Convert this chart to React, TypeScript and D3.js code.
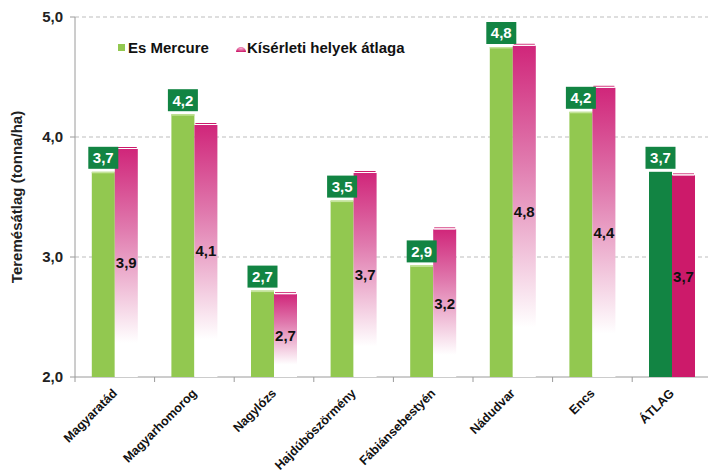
import React from "react";
import * as d3 from "d3";

const categories = ["Magyaratád", "Magyarhomorog", "Nagylózs", "Hajdúböszörmény", "Fábiánsebestyén", "Nádudvar", "Encs", "ÁTLAG"];
const mercure = [3.71, 4.19, 2.72, 3.47, 2.93, 4.75, 4.21, 3.71];
const average = [3.9, 4.1, 2.69, 3.7, 3.23, 4.76, 4.41, 3.68];
const mercureLabels = ["3,7", "4,2", "2,7", "3,5", "2,9", "4,8", "4,2", "3,7"];
const averageLabels = ["3,9", "4,1", "2,7", "3,7", "3,2", "4,8", "4,4", "3,7"];
const yTicks = [2, 3, 4, 5];
const seriesNames = ["Es Mercure", "Kísérleti helyek átlaga"];

const W = 708, H = 470;
const left = 75, top = 17, bottom = 377;
const bandW = 79.6;

export default function App() {
  const x = d3.scaleBand<string>().domain(categories).range([left, left + bandW * categories.length]).paddingInner(0).paddingOuter(0);
  const y = d3.scaleLinear().domain([2, 5]).range([bottom, top]);
  const barW = 23;
  const font = "'Liberation Sans', Arial, sans-serif";
  const green = "#92c850";
  const darkGreen = "#128443";
  const pink = "#cc1a6a";
  const fmt = (v: number) => v.toFixed(1).replace(".", ",");

  return (
    <svg width={W} height={H} style={{ position: "absolute", left: 0, top: 0, fontFamily: font }}>
      <defs>
        <linearGradient id="pinkGrad" x1="0" y1="0" x2="0" y2="1">
          <stop offset="0" stopColor="#d0267a" />
          <stop offset="0.35" stopColor="#e07aae" />
          <stop offset="0.85" stopColor="#ffffff" />
        </linearGradient>
        <radialGradient id="legendPink" cx="0.5" cy="0.3" r="0.7">
          <stop offset="0" stopColor="#f6a8cc" />
          <stop offset="1" stopColor="#cc1a6a" />
        </radialGradient>
      </defs>
      <rect width={W} height={H} fill="#fff" />
      {yTicks.filter(t => t > 2).map(t => (
        <line key={t} x1={left} x2={W} y1={y(t)} y2={y(t)} stroke="#bdbdbd" strokeDasharray="4 3" strokeWidth={1} />
      ))}
      <line x1={left} x2={left} y1={top} y2={bottom} stroke="#9a9a9a" />
      <line x1={left} x2={W} y1={bottom} y2={bottom} stroke="#9a9a9a" />
      {yTicks.map(t => (
        <g key={t}>
          <line x1={left - 5} x2={left} y1={y(t)} y2={y(t)} stroke="#9a9a9a" />
          <text x={63} y={y(t)} dy="0.35em" textAnchor="end" fontSize={15} fontWeight="bold" fill="#222">{fmt(t)}</text>
        </g>
      ))}
      {categories.map((c, i) => (
        <line key={"t" + i} x1={x(c)!} x2={x(c)!} y1={bottom} y2={bottom + 5} stroke="#9a9a9a" />
      ))}
      <text transform={`translate(22,${(top + bottom) / 2}) rotate(-90)`} textAnchor="middle" fontSize={15} fontWeight="bold" fill="#222">Teremésátlag (tonna/ha)</text>
      {categories.map((c, i) => {
        const cx = x(c)! + x.bandwidth() / 2;
        const isAvg = i === categories.length - 1;
        const gy = y(mercure[i]);
        const py = y(average[i]);
        return (
          <g key={c}>
            <rect x={cx - barW} y={gy} width={barW} height={bottom - gy} fill={isAvg ? darkGreen : green} />
            {!isAvg && <rect x={cx - barW} y={gy} width={barW} height={1.5} fill="#c4e39a" />}
            <rect x={cx} y={py} width={barW} height={bottom - py} fill={isAvg ? pink : "url(#pinkGrad)"} />
            <line x1={cx + 1} x2={cx + barW - 1} y1={py - 1.5} y2={py - 1.5} stroke={pink} strokeWidth={1} />
            <line x1={cx + 1} x2={cx + barW - 1} y1={py - 0.5} y2={py - 0.5} stroke="#fff" strokeWidth={1} />
            <rect x={cx - barW / 2 - 15} y={gy - 25} width={30} height={22} fill={darkGreen} />
            <text x={cx - barW / 2} y={gy - 14} dy="0.36em" textAnchor="middle" fontSize={15} fontWeight="bold" fill="#fff">{mercureLabels[i]}</text>
            <text x={cx + barW / 2} y={(py + bottom) / 2} dy="0.36em" textAnchor="middle" fontSize={15} fontWeight="bold" fill="#111">{averageLabels[i]}</text>
            <text transform={`translate(${cx + 3},${bottom + 17}) rotate(-45)`} textAnchor="end" fontSize={12.5} fontWeight="bold" fill="#111">{c}</text>
          </g>
        );
      })}
      <rect x={118} y={44} width={7} height={7} fill={green} />
      <text x={128} y={52.5} fontSize={15} fontWeight="bold" fill="#111">{seriesNames[0]}</text>
      <path d="M236,52 A5,5 0 0 1 246,52 Z" fill="url(#legendPink)" />
      <text x={247} y={52.5} fontSize={15} fontWeight="bold" fill="#111">{seriesNames[1]}</text>
    </svg>
  );
}
